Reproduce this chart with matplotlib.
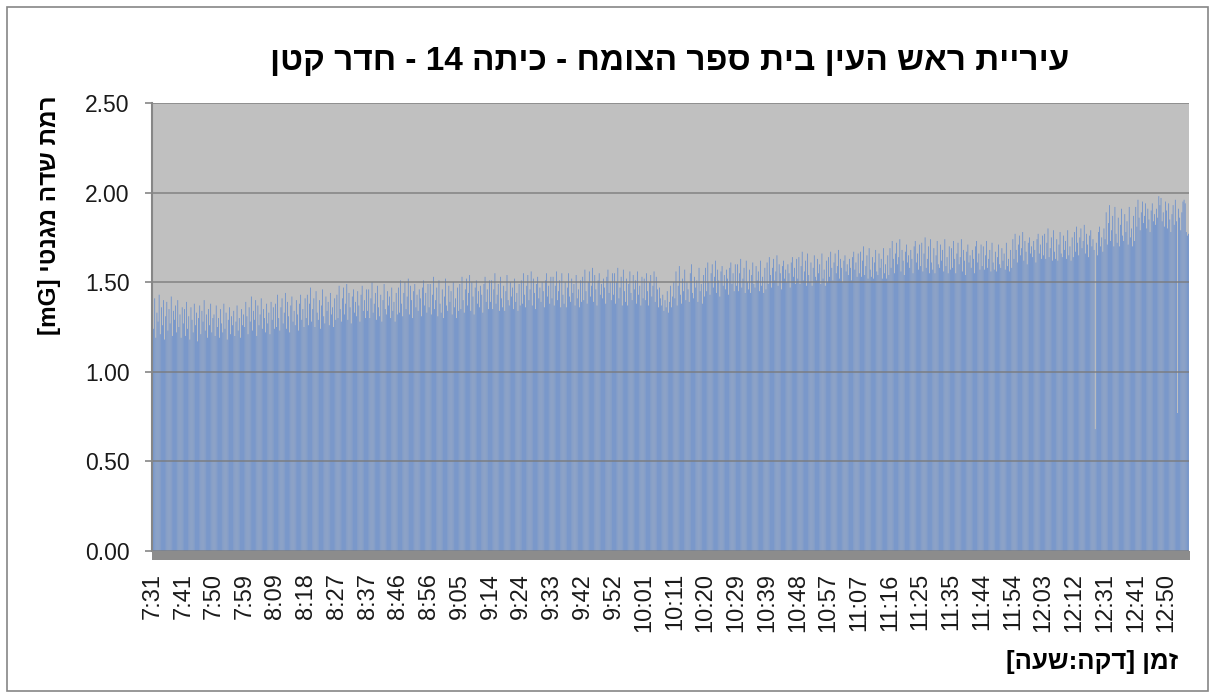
import re
import numpy as np
import matplotlib
matplotlib.use("Agg")
import matplotlib.pyplot as plt
from matplotlib.patches import Rectangle

# ---------------- data ----------------
title_text = "עיריית ראש העין בית ספר הצומח - כיתה 14 - חדר קטן"
y_label_text = "רמת שדה מגנטי [mG]"
x_label_text = "זמן [דקה:שעה]"

tick_labels = ["7:31", "7:41", "7:50", "7:59", "8:09", "8:18", "8:27", "8:37",
               "8:46", "8:56", "9:05", "9:14", "9:24", "9:33", "9:42", "9:52",
               "10:01", "10:11", "10:20", "10:29", "10:39", "10:48", "10:57",
               "11:07", "11:16", "11:25", "11:35", "11:44", "11:54", "12:03",
               "12:12", "12:31", "12:41", "12:50"]
samples_per_label = 28

y_ticks = [0.0, 0.5, 1.0, 1.5, 2.0, 2.5]

# magnetic field, hundredths of mG, one value per 20-second sample (28 per tick label)
field_centi_mG = [
    138,124,141,119,133,128,143,121,136,126,140,118,131,139,123,135,127,142,120,134,129,137,122,140,125,132,119,136,  # 7:31
    127,135,120,139,124,131,118,136,129,122,138,126,133,117,130,137,121,134,128,140,123,132,119,135,126,138,122,130,  # 7:41
    132,120,137,125,130,119,135,127,122,138,124,133,118,129,136,121,131,126,134,120,128,137,123,130,119,135,126,132,  # 7:50
    125,139,131,121,136,128,142,123,134,129,140,120,137,126,132,141,124,135,130,122,138,127,133,121,139,129,136,124,  # 7:59
    138,125,143,130,123,136,141,127,133,144,124,139,131,122,137,142,128,134,126,140,132,123,138,143,129,135,125,141,  # 8:09
    130,143,126,138,147,128,135,141,125,145,133,129,140,124,137,146,131,127,142,134,139,126,144,132,136,125,141,129,  # 8:18
    143,130,148,135,128,141,147,132,138,149,129,144,136,127,142,146,133,139,131,145,137,128,143,148,134,140,130,146,  # 8:27
    134,146,130,141,150,133,138,144,129,148,136,131,143,128,140,149,135,132,145,137,142,130,147,134,139,128,144,132,  # 8:37
    147,133,151,138,131,144,150,135,142,152,132,148,140,130,145,149,136,143,134,146,141,131,147,151,137,144,133,149,  # 8:46
    136,149,132,143,153,135,140,147,131,151,138,133,146,130,142,152,137,134,148,139,145,132,150,136,141,130,147,134,  # 8:56
    149,135,153,140,133,146,152,137,144,154,134,150,142,132,147,151,138,145,136,148,143,133,149,153,139,146,135,151,  # 9:05
    139,151,135,146,155,138,143,149,134,153,141,136,148,134,145,154,140,137,150,142,147,135,152,139,144,134,149,137,  # 9:14
    151,138,155,143,136,148,154,140,146,156,137,152,144,135,149,153,141,147,139,150,145,136,151,155,142,148,138,153,  # 9:24
    141,153,137,148,156,140,145,151,136,155,143,138,150,136,147,155,142,139,152,144,149,137,154,141,146,136,151,139,  # 9:33
    153,140,157,145,138,150,156,142,148,158,139,154,146,137,151,155,143,149,141,152,147,138,153,157,144,150,140,155,  # 9:42
    143,155,138,150,158,141,147,153,137,157,145,139,152,137,149,156,144,140,154,146,151,138,156,143,148,137,153,141,  # 9:52
    152,140,155,145,137,150,154,142,148,156,139,153,146,136,147,141,137,143,134,140,136,145,133,139,148,136,142,150,  # 10:01
    141,156,137,148,159,143,138,152,145,157,140,150,146,139,155,160,144,141,153,147,151,139,158,145,149,138,154,142,  # 10:11
    158,145,161,150,143,155,160,147,153,162,144,157,151,142,156,159,148,154,146,157,152,143,158,161,149,155,145,160,  # 10:20
    148,160,145,155,163,147,152,158,144,162,150,146,157,144,154,161,149,147,159,151,156,145,162,148,153,144,158,146,  # 10:29
    161,149,164,154,147,158,163,151,156,165,148,160,155,146,159,162,152,157,150,160,155,147,161,164,153,158,149,163,  # 10:39
    152,164,149,159,167,151,156,162,148,166,154,150,161,148,158,165,153,151,163,155,160,149,166,152,157,148,162,150,  # 10:48
    164,153,167,158,151,161,166,155,159,168,152,163,158,150,162,165,156,160,154,163,158,151,164,167,157,161,153,166,  # 10:57
    155,167,153,162,170,154,159,165,152,169,157,153,164,152,161,168,156,154,166,158,163,152,169,155,160,152,165,154,  # 11:07
    169,158,173,163,155,166,172,160,164,174,156,168,162,154,167,171,161,165,158,168,163,155,170,173,161,166,157,171,  # 11:16
    159,172,156,166,175,158,163,170,155,174,161,157,169,155,165,173,160,158,171,162,168,156,174,159,164,155,170,157,  # 11:25
    169,158,173,163,155,166,172,160,164,174,156,168,162,154,167,171,161,165,158,168,163,155,170,173,161,166,157,171,  # 11:35
    159,170,157,165,173,158,163,168,156,172,161,157,167,156,164,171,160,158,169,162,166,157,172,159,163,156,168,158,  # 11:44
    174,163,177,168,161,171,176,165,169,178,162,173,167,160,172,175,166,170,164,173,168,161,174,177,166,171,163,176,  # 11:54
    165,177,163,172,180,164,169,175,162,179,167,163,174,162,171,178,166,164,176,168,173,163,179,165,170,162,175,164,  # 12:03
    178,167,181,172,165,175,180,169,173,182,166,177,171,164,176,179,170,174,168, 68,172,165,178,181,170,175,167,180,  # 12:12
    174,189,171,183,193,173,179,187,170,192,177,172,186,170,182,191,176,173,188,178,184,171,192,175,180,170,187,173,  # 12:31
    192,181,196,186,179,189,195,183,187,194,180,191,185,178,190,194,184,188,182,191,186,198,193,197,184,189,181,195,  # 12:41
    190,180,194,185,178,188,193,182,196,184, 77,191,186,179,189,195,196,194,178,176,177,                              # 12:50
]


def to_visual(s):
    """Right-to-left text -> left-to-right glyph order for matplotlib."""
    r = s[::-1]
    r = re.sub(r"[A-Za-z0-9.]+", lambda m: m.group(0)[::-1], r)
    return r.translate(str.maketrans("[]()", "][)("))


FONT = ["Liberation Sans", "DejaVu Sans"]
plt.rcParams["font.family"] = FONT

W, H = 1215, 698
fig = plt.figure(figsize=(W / 100, H / 100), dpi=100)
fig.patch.set_facecolor("white")

left, right, top, bottom = 152, 1189, 103, 551
ax = fig.add_axes([left / W, 1 - bottom / H, (right - left) / W, (bottom - top) / H])
ax.set_facecolor("#C0C0C0")

values = np.array(field_centi_mG) / 100.0
xpos = np.arange(len(values))
bars = ax.bar(xpos, values, width=0.62, color="#5A86CF", linewidth=0, zorder=1)
for b in bars:
    b.set_snap(False)

ax.set_xlim(-0.5, len(values) - 0.5)
ax.set_ylim(0, 2.5)
ax.set_yticks(y_ticks)
ax.yaxis.set_major_formatter(matplotlib.ticker.FormatStrFormatter("%.2f"))
ax.set_xticks(np.arange(len(tick_labels)) * samples_per_label)
ax.set_xticklabels(tick_labels, rotation=90)

ax.grid(axis="y", color="#7A7A7A", lw=1.3, alpha=0.75)
ax.grid(axis="x", visible=False)
for s in ["top", "right", "bottom"]:
    ax.spines[s].set_visible(False)
ax.spines["left"].set_color("#868686")
ax.spines["left"].set_linewidth(1.5)

ax.tick_params(axis="y", length=5, width=1.2, color="#868686", labelsize=16.5,
               pad=11, labelcolor="#1a1a1a")
ax.tick_params(axis="x", length=0, labelsize=17, pad=16, labelcolor="#1a1a1a")

# floor of the chart
floor_h = 9 / (bottom - top)
ax.add_patch(Rectangle((0, -floor_h), 1.001, floor_h, transform=ax.transAxes,
                       facecolor="#8C8C8C", edgecolor="none", clip_on=False, zorder=4))

# texts
fig.text(670 / W, 1 - 62 / H, to_visual(title_text), ha="center", va="center",
         fontsize=24, fontweight="bold", family=FONT)
fig.text(50 / W, 1 - 215 / H, to_visual(y_label_text), ha="center", va="center",
         rotation=90, fontsize=17.5, fontweight="bold", family=FONT)
fig.text(1092 / W, 1 - 662 / H, to_visual(x_label_text), ha="center", va="center",
         fontsize=18.5, fontweight="bold", family=FONT)

# outer chart border
fig.add_artist(Rectangle((7 / W, 1 - 691 / H), (1208 - 7) / W, (691 - 7) / H,
                         transform=fig.transFigure, fill=False,
                         edgecolor="#868686", lw=1.2))

fig.savefig("out.png", dpi=100)
